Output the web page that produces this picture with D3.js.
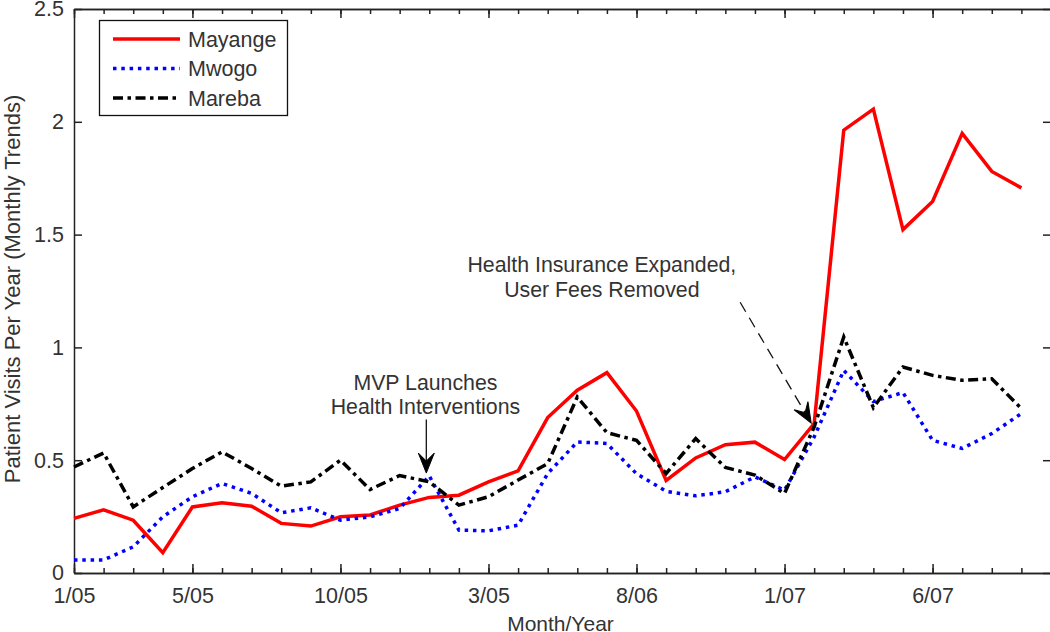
<!DOCTYPE html>
<html>
<head>
<meta charset="utf-8">
<script src="https://cdn.jsdelivr.net/npm/d3@7"></script>
<style>
  html, body { margin: 0; padding: 0; background: #fff; }
  svg { display: block; }
  text { font-family: "Liberation Sans", Arial, Helvetica, sans-serif; fill: #333; }
</style>
</head>
<body>
<svg id="chart" width="1050" height="632"></svg>
<script>
// ---- Data ----
const monthCount = 33; // 1/05 .. 9/07, monthly
const tickIndex  = [0, 4, 9, 14, 19, 24, 29];
const tickLabels = ["1/05", "5/05", "10/05", "3/05", "8/06", "1/07", "6/07"];
const yTicks     = [0, 0.5, 1, 1.5, 2, 2.5];

const seriesNames = ["Mayange", "Mwogo", "Mareba"];
const mayange = [0.242, 0.28, 0.234, 0.09, 0.293, 0.311, 0.296, 0.22, 0.208, 0.249,
                 0.257, 0.301, 0.335, 0.345, 0.404, 0.453, 0.689, 0.81, 0.888, 0.718,
                 0.41, 0.51, 0.569, 0.58, 0.503, 0.662, 1.963, 2.056, 1.522, 1.647,
                 1.949, 1.78, 1.707];
const mwogo   = [0.058, 0.058, 0.116, 0.249, 0.338, 0.397, 0.353, 0.267, 0.289, 0.234,
                 0.249, 0.286, 0.43, 0.19, 0.187, 0.212, 0.441, 0.581, 0.574, 0.44,
                 0.362, 0.342, 0.36, 0.426, 0.367, 0.603, 0.898, 0.76, 0.80, 0.588,
                 0.552, 0.618, 0.707];
const mareba  = [0.47, 0.532, 0.293, 0.379, 0.463, 0.537, 0.463, 0.385, 0.404, 0.5,
                 0.37, 0.432, 0.404, 0.301, 0.338, 0.412, 0.485, 0.78, 0.622, 0.588,
                 0.441, 0.596, 0.468, 0.434, 0.353, 0.647, 1.046, 0.733, 0.913, 0.876,
                 0.854, 0.861, 0.729];

// annotation anchors in data units (month index, value)
const annotMVP = { lines: ["MVP Launches", "Health Interventions"], textX: 11.87, textY: [0.81, 0.705],
                   from: [11.9, 0.68], to: [11.9, 0.443] };
const annotHI  = { lines: ["Health Insurance Expanded,", "User Fees Removed"], textX: 17.83, textY: [1.333, 1.222],
                   from: [22.5, 1.2], to: [24.9, 0.665] };

// ---- Layout ----
const svg = d3.select("#chart");
const mLeft = 74, mRight = 1051, mTop = 9, mBottom = 573;
const x = d3.scaleLinear().domain([0, monthCount]).range([mLeft, mRight]);
const y = d3.scaleLinear().domain([0, 2.5]).range([mBottom, mTop]);

const styles = {
  Mayange: { color: "#ff0000", dash: null, width: 3.5 },
  Mwogo:   { color: "#0000ff", dash: "3.5 4.8", width: 3.5 },
  Mareba:  { color: "#000000", dash: "10 4.5 3.5 4.5", width: 3.5 }
};
const dataByName = { Mayange: mayange, Mwogo: mwogo, Mareba: mareba };

// ---- Axes ----
const axisColor = "#222";
const allMonths = d3.range(monthCount);
function styleAxis(g) {
  g.selectAll("path.domain").attr("stroke", axisColor).attr("stroke-width", 1.5);
  g.selectAll(".tick line").attr("stroke", axisColor).attr("stroke-width", 1.5);
  g.selectAll("text").style("font-size", "21.5px").attr("fill", "#333");
}
// bottom minor + major
svg.append("g").attr("transform", `translate(0,${mBottom})`)
  .call(d3.axisBottom(x).tickValues(allMonths).tickSize(-5).tickSizeOuter(0).tickFormat(""))
  .call(styleAxis);
svg.append("g").attr("transform", `translate(0,${mBottom})`)
  .call(d3.axisBottom(x).tickValues(tickIndex).tickSize(-9).tickSizeOuter(0)
        .tickPadding(14.7).tickFormat((d, i) => tickLabels[i]))
  .call(styleAxis);
// top minor + major
svg.append("g").attr("transform", `translate(0,${mTop})`)
  .call(d3.axisTop(x).tickValues(allMonths).tickSize(-5).tickSizeOuter(0).tickFormat(""))
  .call(styleAxis);
svg.append("g").attr("transform", `translate(0,${mTop})`)
  .call(d3.axisTop(x).tickValues(tickIndex).tickSize(-9).tickSizeOuter(0).tickFormat(""))
  .call(styleAxis);
// left
svg.append("g").attr("transform", `translate(${mLeft},0)`)
  .call(d3.axisLeft(y).tickValues(yTicks).tickSize(-8).tickSizeOuter(0).tickPadding(10)
        .tickFormat(d => String(d)))
  .call(styleAxis);
// right
svg.append("g").attr("transform", `translate(${mRight},0)`)
  .call(d3.axisRight(y).tickValues(yTicks).tickSize(-8).tickSizeOuter(0).tickFormat(""))
  .call(styleAxis);

// axis titles
svg.append("text")
  .attr("x", (mLeft + mRight) / 2 - 2).attr("y", 630.5)
  .attr("text-anchor", "middle").style("font-size", "21px")
  .text("Month/Year");
svg.append("text")
  .attr("transform", `translate(20,${(mTop + mBottom) / 2 - 2}) rotate(-90)`)
  .attr("text-anchor", "middle").style("font-size", "22px")
  .text("Patient Visits Per Year (Monthly Trends)");

// ---- Lines ----
const line = d3.line().x((d, i) => x(i)).y(d => y(d));
seriesNames.forEach(name => {
  const s = styles[name];
  svg.append("path")
    .datum(dataByName[name])
    .attr("fill", "none")
    .attr("stroke", s.color)
    .attr("stroke-width", s.width)
    .attr("stroke-linejoin", "miter")
    .attr("stroke-dasharray", s.dash)
    .attr("d", line);
});

// ---- Annotations ----
function arrowHead(tx, ty, fx, fy) {
  const ang = Math.atan2(ty - fy, tx - fx) * 180 / Math.PI;
  svg.append("path")
    .attr("d", "M0,0 L-20,-8 L-12,0 L-20,8 Z")
    .attr("transform", `translate(${tx},${ty}) rotate(${ang})`)
    .attr("fill", "#000").attr("stroke", "#000").attr("stroke-width", 1);
}
function annotate(a, dash) {
  const tx = x(a.textX);
  a.lines.forEach((t, i) => {
    svg.append("text").attr("x", tx).attr("y", y(a.textY[i]))
      .attr("text-anchor", "middle").style("font-size", "21.3px").text(t);
  });
  const fx = x(a.from[0]), fy = y(a.from[1]);
  const ex = x(a.to[0]), ey = y(a.to[1]);
  const len = Math.hypot(ex - fx, ey - fy);
  const ux = (ex - fx) / len, uy = (ey - fy) / len;
  svg.append("line")
    .attr("x1", fx).attr("y1", fy)
    .attr("x2", ex - ux * 12).attr("y2", ey - uy * 12)
    .attr("stroke", "#111").attr("stroke-width", 1.3)
    .attr("stroke-dasharray", dash);
  arrowHead(ex, ey, fx, fy);
}
annotate(annotMVP, null);
annotate(annotHI, "11 7");

// ---- Legend ----
const lg = svg.append("g");
lg.append("rect").attr("x", 99.5).attr("y", 20.5).attr("width", 188).attr("height", 95)
  .attr("fill", "#fff").attr("stroke", "#111").attr("stroke-width", 1.3);
seriesNames.forEach((name, i) => {
  const s = styles[name];
  const cy = 39 + i * 29.5;
  lg.append("line").attr("x1", 113).attr("x2", 180).attr("y1", cy).attr("y2", cy)
    .attr("stroke", s.color).attr("stroke-width", s.width)
    .attr("stroke-dasharray", s.dash);
  lg.append("text").attr("x", 188).attr("y", cy + 7.5)
    .style("font-size", "21.5px").text(name);
});
</script>
</body>
</html>
